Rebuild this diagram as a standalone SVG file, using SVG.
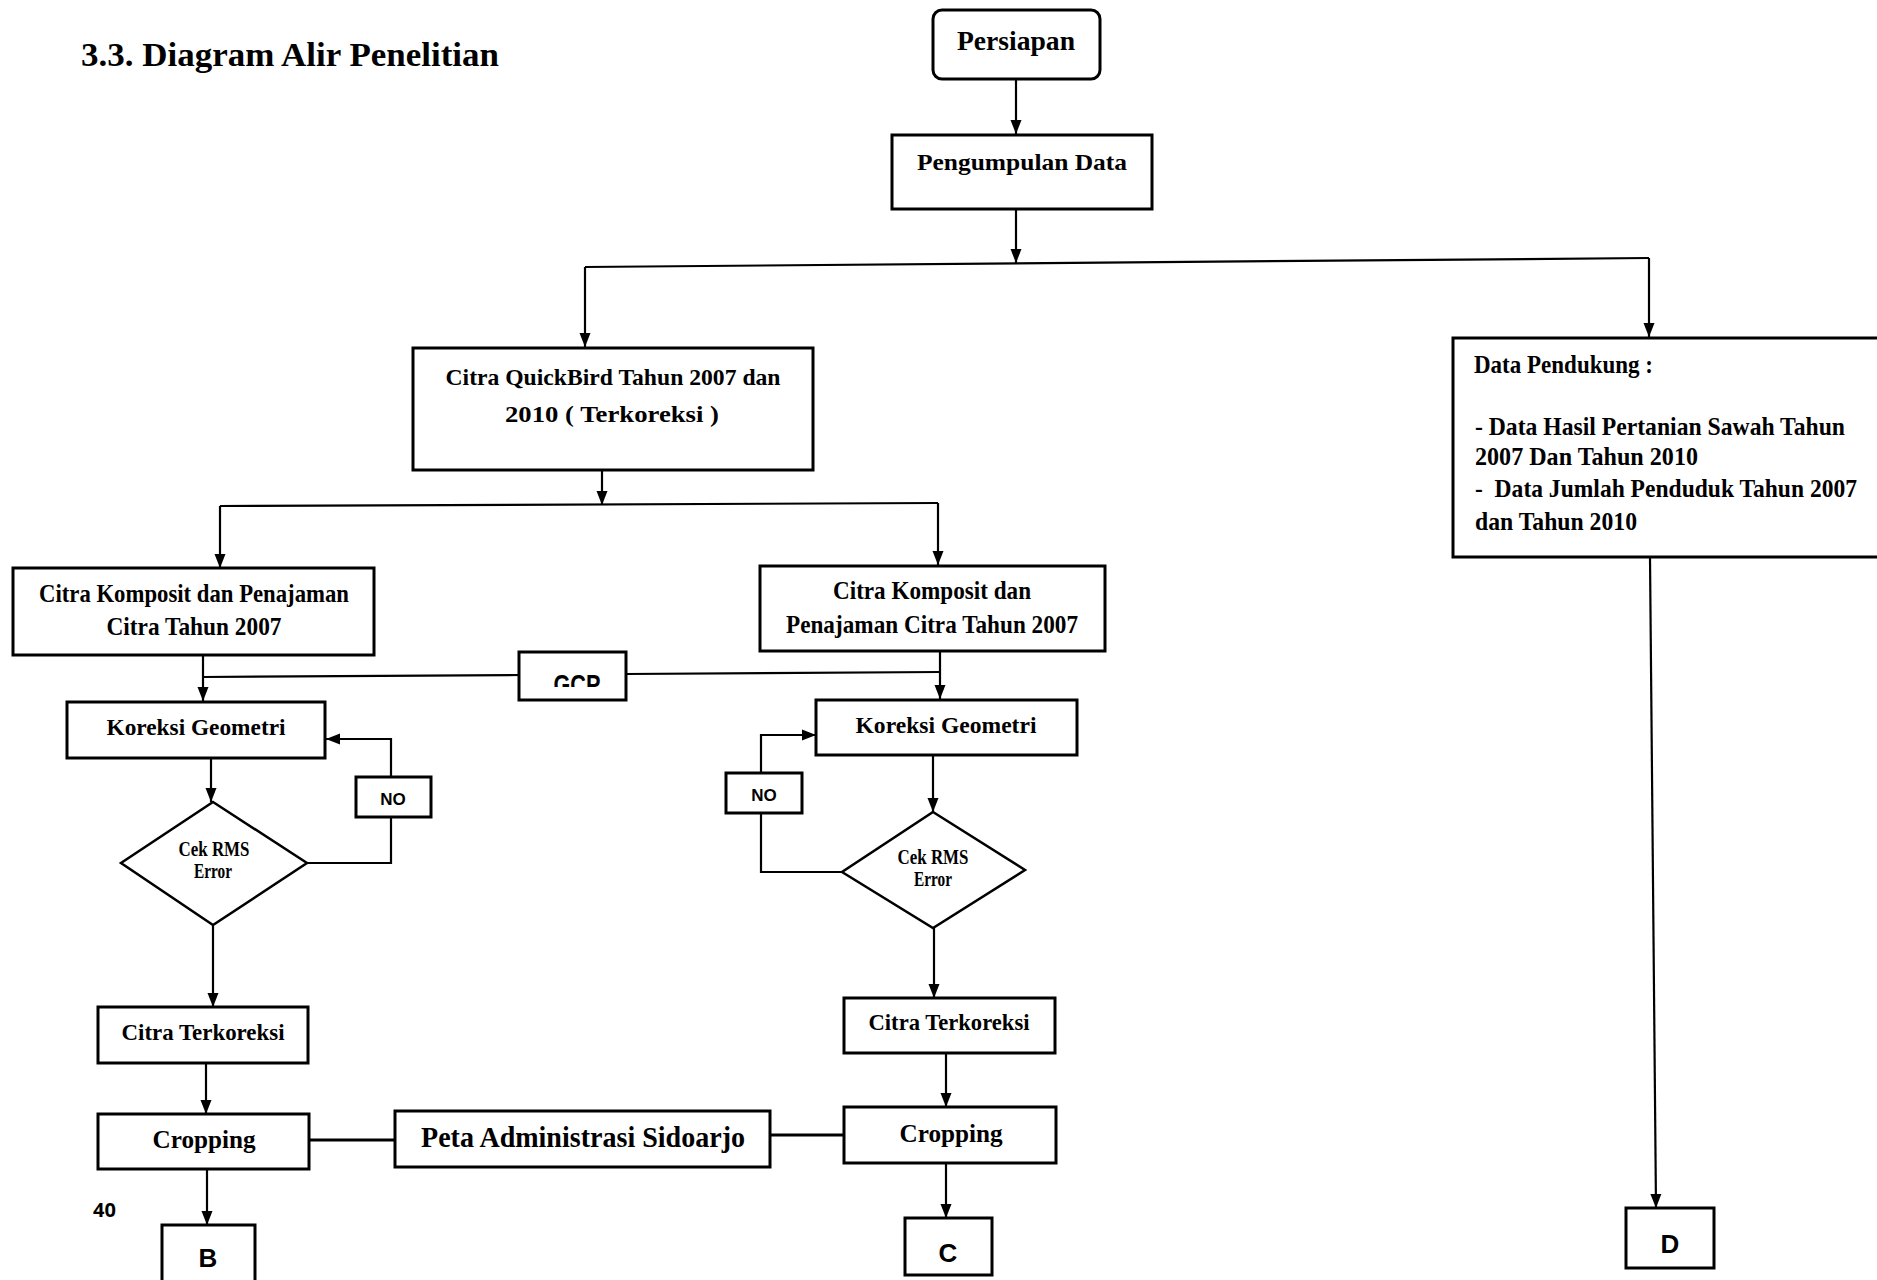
<svg xmlns="http://www.w3.org/2000/svg" width="1877" height="1280" viewBox="0 0 1877 1280">
<style>
.bx{fill:#fff;stroke:#000;stroke-width:3}
.ln{fill:none;stroke:#000;stroke-width:2.2}
.t{font-family:"Liberation Serif","Times New Roman",serif;font-weight:bold;fill:#000;text-anchor:middle}
.tl{font-family:"Liberation Serif","Times New Roman",serif;font-weight:bold;fill:#000;white-space:pre}
.s{font-family:"Liberation Sans",Arial,sans-serif;font-weight:bold;fill:#000;text-anchor:middle}
</style>
<defs>
<marker id="ah" markerUnits="userSpaceOnUse" markerWidth="14" markerHeight="12" refX="14" refY="6" orient="auto">
<path d="M0,0.5 L14,6 L0,11.5 z" fill="#000"/>
</marker>
<clipPath id="gcpclip"><rect x="520" y="650" width="106" height="37"/></clipPath>
</defs>
<rect width="1877" height="1280" fill="#fff"/>

<text class="tl" x="81" y="66" font-size="34" textLength="418" lengthAdjust="spacingAndGlyphs">3.3. Diagram Alir Penelitian</text>
<text x="93" y="1217" font-family="'Open Sans','Liberation Sans',sans-serif" font-size="20" font-weight="bold">40</text>

<g id="connectors">
<path class="ln" d="M1016,79 L1016,134" marker-end="url(#ah)"/>
<path class="ln" d="M1016,209 L1016,263" marker-end="url(#ah)"/>
<path class="ln" d="M585,267 L1649,258"/>
<path class="ln" d="M585,267 L585,347" marker-end="url(#ah)"/>
<path class="ln" d="M1649,258 L1649,337" marker-end="url(#ah)"/>
<path class="ln" d="M602,471 L602,505" marker-end="url(#ah)"/>
<path class="ln" d="M220,506 L938,503"/>
<path class="ln" d="M220,506 L220,568" marker-end="url(#ah)"/>
<path class="ln" d="M938,503 L938,565" marker-end="url(#ah)"/>
<path class="ln" d="M203,655 L203,701" marker-end="url(#ah)"/>
<path class="ln" d="M203,677 L520,675"/>
<path class="ln" d="M626,674 L940,672"/>
<path class="ln" d="M940,651 L940,699" marker-end="url(#ah)"/>
<path class="ln" d="M211,758 L211,802" marker-end="url(#ah)"/>
<path class="ln" d="M307,863 L391,863 L391,817"/>
<path class="ln" d="M391,777 L391,739 L326,739" marker-end="url(#ah)"/>
<path class="ln" d="M842,872 L761,872 L761,813"/>
<path class="ln" d="M761,773 L761,735 L816,735" marker-end="url(#ah)"/>
<path class="ln" d="M933,755 L933,812" marker-end="url(#ah)"/>
<path class="ln" d="M213,925 L213,1007" marker-end="url(#ah)"/>
<path class="ln" d="M934,928 L934,998" marker-end="url(#ah)"/>
<path class="ln" d="M206,1063 L206,1114" marker-end="url(#ah)"/>
<path class="ln" d="M946,1053 L946,1107" marker-end="url(#ah)"/>
<path class="ln" d="M207,1169 L207,1225" marker-end="url(#ah)"/>
<path class="ln" d="M946,1163 L946,1218" marker-end="url(#ah)"/>
<path class="ln" d="M309,1140 L395,1140" style="stroke-width:3"/>
<path class="ln" d="M770,1135 L844,1135" style="stroke-width:3"/>
<path class="ln" d="M1650,557 L1656,1208" marker-end="url(#ah)"/>
</g>

<g id="persiapan">
<rect class="bx" x="933" y="10" width="167" height="69" rx="9"/>
<text class="t" x="1016" y="50" font-size="27" textLength="118" lengthAdjust="spacingAndGlyphs">Persiapan</text>
</g>
<g id="pengumpulan">
<rect class="bx" x="892" y="135" width="260" height="74"/>
<text class="t" x="1022" y="170" font-size="24" textLength="210" lengthAdjust="spacingAndGlyphs">Pengumpulan Data</text>
</g>
<g id="quickbird">
<rect class="bx" x="413" y="348" width="400" height="122"/>
<text class="t" x="613" y="385" font-size="23" textLength="335" lengthAdjust="spacingAndGlyphs">Citra QuickBird Tahun 2007 dan</text>
<text class="t" x="612" y="422" font-size="23" textLength="214" lengthAdjust="spacingAndGlyphs">2010 ( Terkoreksi )</text>
</g>
<g id="pendukung">
<rect class="bx" x="1453" y="338" width="430" height="219"/>
<text class="tl" x="1474" y="373" font-size="25" textLength="179" lengthAdjust="spacingAndGlyphs">Data Pendukung :</text>
<text class="tl" x="1475" y="435" font-size="25" textLength="370" lengthAdjust="spacingAndGlyphs">- Data Hasil Pertanian Sawah Tahun</text>
<text class="tl" x="1475" y="465" font-size="25" textLength="223" lengthAdjust="spacingAndGlyphs">2007 Dan Tahun 2010</text>
<text class="tl" x="1475" y="497" font-size="25" textLength="382" lengthAdjust="spacingAndGlyphs">-  Data Jumlah Penduduk Tahun 2007</text>
<text class="tl" x="1475" y="530" font-size="25" textLength="162" lengthAdjust="spacingAndGlyphs">dan Tahun 2010</text>
</g>
<g id="komposit-left">
<rect class="bx" x="13" y="568" width="361" height="87"/>
<text class="t" x="194" y="602" font-size="25" textLength="310" lengthAdjust="spacingAndGlyphs">Citra Komposit dan Penajaman</text>
<text class="t" x="194" y="635" font-size="25" textLength="175" lengthAdjust="spacingAndGlyphs">Citra Tahun 2007</text>
</g>
<g id="komposit-right">
<rect class="bx" x="760" y="566" width="345" height="85"/>
<text class="t" x="932" y="599" font-size="25" textLength="198" lengthAdjust="spacingAndGlyphs">Citra Komposit dan</text>
<text class="t" x="932" y="633" font-size="25" textLength="292" lengthAdjust="spacingAndGlyphs">Penajaman Citra Tahun 2007</text>
</g>
<g id="gcp">
<rect class="bx" x="519" y="652" width="107" height="48"/>
<text class="s" x="577" y="694" font-size="28" textLength="47" lengthAdjust="spacingAndGlyphs" clip-path="url(#gcpclip)">GCP</text>
</g>
<g id="koreksi-left">
<rect class="bx" x="67" y="702" width="258" height="56"/>
<text class="t" x="196" y="735" font-size="23" textLength="179" lengthAdjust="spacingAndGlyphs">Koreksi Geometri</text>
</g>
<g id="koreksi-right">
<rect class="bx" x="816" y="700" width="261" height="55"/>
<text class="t" x="946" y="733" font-size="23" textLength="181" lengthAdjust="spacingAndGlyphs">Koreksi Geometri</text>
</g>
<g id="no-left">
<rect class="bx" x="356" y="777" width="75" height="40"/>
<text class="s" x="393" y="805" font-size="17">NO</text>
</g>
<g id="no-right">
<rect class="bx" x="726" y="773" width="76" height="40"/>
<text class="s" x="764" y="801" font-size="17">NO</text>
</g>
<g id="rms-left">
<polygon class="bx" points="213,802 307,863 213,925 121,863" style="stroke-width:2.5"/>
<text class="t" x="214" y="856" font-size="21" textLength="71" lengthAdjust="spacingAndGlyphs">Cek RMS</text>
<text class="t" x="213" y="878" font-size="21" textLength="38" lengthAdjust="spacingAndGlyphs">Error</text>
</g>
<g id="rms-right">
<polygon class="bx" points="933,812 1025,870 933,928 842,872" style="stroke-width:2.5"/>
<text class="t" x="933" y="864" font-size="21" textLength="71" lengthAdjust="spacingAndGlyphs">Cek RMS</text>
<text class="t" x="933" y="886" font-size="21" textLength="38" lengthAdjust="spacingAndGlyphs">Error</text>
</g>
<g id="terkoreksi-left">
<rect class="bx" x="98" y="1007" width="210" height="56"/>
<text class="t" x="203" y="1040" font-size="23" textLength="163" lengthAdjust="spacingAndGlyphs">Citra Terkoreksi</text>
</g>
<g id="terkoreksi-right">
<rect class="bx" x="844" y="998" width="211" height="55"/>
<text class="t" x="949" y="1030" font-size="23" textLength="161" lengthAdjust="spacingAndGlyphs">Citra Terkoreksi</text>
</g>
<g id="cropping-left">
<rect class="bx" x="98" y="1114" width="211" height="55"/>
<text class="t" x="204" y="1148" font-size="26" textLength="103" lengthAdjust="spacingAndGlyphs">Cropping</text>
</g>
<g id="peta">
<rect class="bx" x="395" y="1111" width="375" height="56"/>
<text class="t" x="583" y="1147" font-size="29" textLength="324" lengthAdjust="spacingAndGlyphs">Peta Administrasi Sidoarjo</text>
</g>
<g id="cropping-right">
<rect class="bx" x="844" y="1107" width="212" height="56"/>
<text class="t" x="951" y="1142" font-size="26" textLength="103" lengthAdjust="spacingAndGlyphs">Cropping</text>
</g>
<g id="b">
<rect class="bx" x="162" y="1225" width="93" height="70"/>
<text class="s" x="208" y="1267" font-size="26">B</text>
</g>
<g id="c">
<rect class="bx" x="905" y="1218" width="87" height="57"/>
<text class="s" x="948" y="1262" font-size="26">C</text>
</g>
<g id="d">
<rect class="bx" x="1626" y="1208" width="88" height="60"/>
<text class="s" x="1670" y="1253" font-size="26">D</text>
</g>
</svg>
